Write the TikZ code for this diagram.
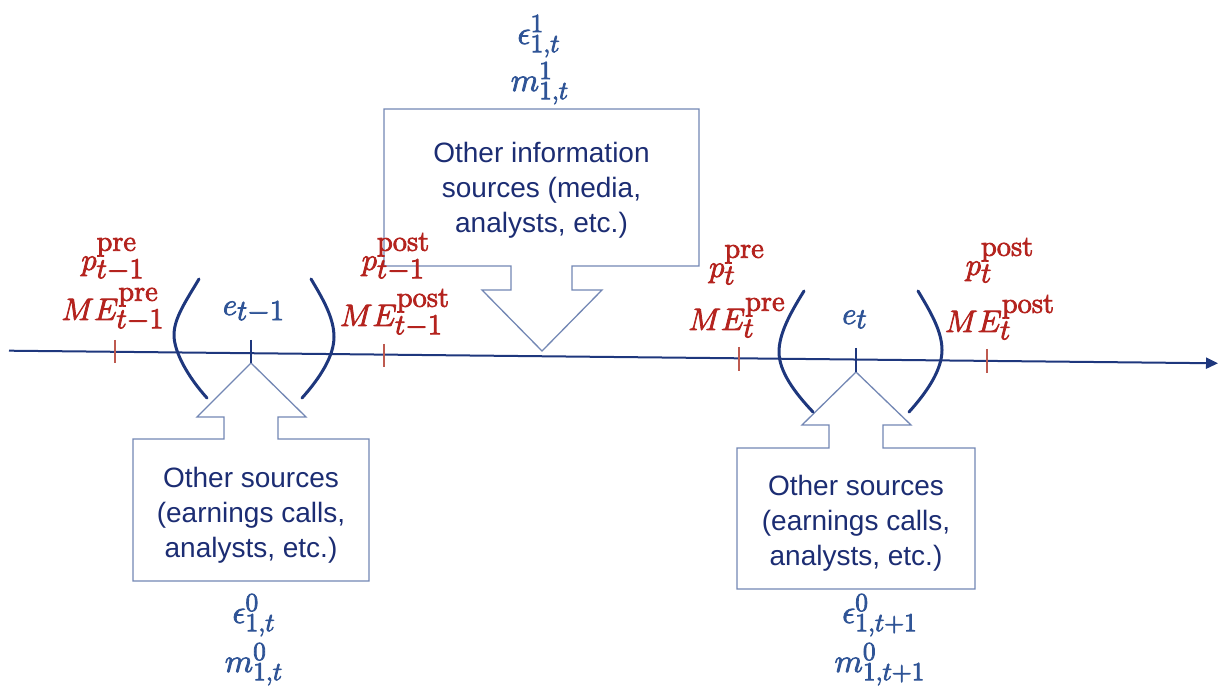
\RequirePackage{fix-cm}
\documentclass[tikz,border=0pt]{standalone}
\usepackage{fontspec}
\newfontfamily\boxfont{Liberation Sans}
\DeclareMathSizes{15.5}{15.5}{14.5}{11}
\DeclareMathSizes{16.5}{16.5}{13}{10}
\usetikzlibrary{arrows.meta}

% large scripts, placed well above and below the base letter
\newcommand\scriptshifts{%
  \fontdimen5\textfont2=8.5pt\relax
  \fontdimen13\textfont2=8.5pt\relax
  \fontdimen16\textfont2=1.5pt\relax
  \fontdimen17\textfont2=4.5pt\relax}

\definecolor{lblred}{RGB}{180,35,30}
\definecolor{mathblue}{RGB}{47,84,150}
\definecolor{navy}{RGB}{28,45,115}
\definecolor{axisblue}{RGB}{30,55,125}
\definecolor{outline}{RGB}{115,135,180}
\definecolor{tickred}{RGB}{190,90,80}

\tikzset{
  heavy/.style={
    execute at begin node={\special{pdf:literal direct 2 Tr 0.4 w}},
    execute at end node={\special{pdf:literal direct 0 Tr}}},
  price/.style={heavy, text=lblred, font=\fontsize{15.5}{18}\selectfont, inner sep=0pt, anchor=base},
  event/.style={heavy, text=mathblue, font=\fontsize{15.5}{18}\selectfont, inner sep=0pt, anchor=base},
  signal/.style={heavy, text=mathblue, font=\fontsize{16.5}{19}\selectfont, inner sep=0pt, anchor=base},
  srcbox/.style={draw=outline, line width=0.65pt, fill=white, line join=miter},
  srctext/.style={text=navy, font=\boxfont\fontsize{14}{17.5}\selectfont, align=center, inner sep=0pt},
  paren/.style={draw=axisblue, line width=1.5pt, line cap=round},
  redtick/.style={draw=tickred, line width=0.6pt},
  bluetick/.style={draw=axisblue, line width=0.7pt},
  timeline/.style={draw=axisblue, line width=1pt, -{Triangle[length=6pt,width=5.5pt]}},
}

\begin{document}
\begin{tikzpicture}[x=0.5pt,y=-0.5pt]
\useasboundingbox (0,0) rectangle (1224,688);

% time axis
\coordinate (tstart) at (9,350.7);
\coordinate (tend) at (1218,363.3);
\draw[timeline] (tstart) -- (tend);

% callout: other information sources, pointing down to the axis
\draw[srcbox] (384,109) -- (699,109) -- (699,266) -- (572,266) -- (572,290)
  -- (602,290) -- (542,351) -- (482,290) -- (511,290) -- (511,266)
  -- (384,266) -- cycle;
\node[srctext] (info) at (541.5,190) {Other information\\sources (media,\\analysts, etc.)};

% callout: other sources around the first announcement
\draw[srcbox] (133,581) -- (369,581) -- (369,439) -- (278,439) -- (278,417)
  -- (306,417) -- (251,363) -- (197,417) -- (224,417) -- (224,439)
  -- (133,439) -- cycle;
\node[srctext] (srcA) at (251,515) {Other sources\\(earnings calls,\\analysts, etc.)};

% callout: other sources around the second announcement
\draw[srcbox] (737,589) -- (975,589) -- (975,448) -- (883,448) -- (883,425)
  -- (911,425) -- (856,372) -- (802,425) -- (829,425) -- (829,448)
  -- (737,448) -- cycle;
\node[srctext] (srcB) at (856,523) {Other sources\\(earnings calls,\\analysts, etc.)};

% ticks on the axis
\draw[redtick] (115,340) -- (115,363);
\draw[redtick] (384,344) -- (384,367);
\draw[redtick] (739,347) -- (739,371);
\draw[redtick] (987,349) -- (987,373);
\draw[bluetick] (251,340) -- (251,363);
\draw[bluetick] (856,348) -- (856,372);

% announcement windows
\draw[paren] (199,279) .. controls (186,301) and (174,318) .. (174,335)
  .. controls (174,352) and (188,377) .. (207,398);
\draw[paren] (311,279) .. controls (323,299) and (334,318) .. (334,337)
  .. controls (334,356) and (320,378) .. (302,398);
\draw[paren] (804,291) .. controls (791,312) and (779,333) .. (779,352)
  .. controls (779,371) and (794,392) .. (813,412);
\draw[paren] (918,291) .. controls (930,311) and (942,331) .. (942,350)
  .. controls (942,370) and (927,392) .. (909,412);

% prices and market expectations
\node[price] (ppre1) at (113,270) {$\scriptshifts p^{\mathrm{pre}}_{t-1}$};
\node[price] (mepre1) at (113,320) {$\scriptshifts ME^{\mathrm{pre}}_{t-1}$};
\node[price] (ppost1) at (396,270) {$\scriptshifts p^{\mathrm{post}}_{t-1}$};
\node[price] (mepost1) at (395,326) {$\scriptshifts ME^{\mathrm{post}}_{t-1}$};
\node[price] (ppre2) at (737,277) {$\scriptshifts p^{\mathrm{pre}}_{t}$};
\node[price] (mepre2) at (737,330) {$\scriptshifts ME^{\mathrm{pre}}_{t}$};
\node[price] (ppost2) at (1000,275) {$\scriptshifts p^{\mathrm{post}}_{t}$};
\node[price] (mepost2) at (1000,332) {$\scriptshifts ME^{\mathrm{post}}_{t}$};

% earnings announcements
\node[event] (e1) at (254,315) {$\scriptshifts e_{t-1}$};
\node[event] (e2) at (855,324) {$\scriptshifts e_{t}$};

% signals from other sources
\node[signal] (eps1) at (539,44) {$\epsilon^{1}_{1,t}$};
\node[signal] (m1) at (540,91) {$m^{1}_{1,t}$};
\node[signal] (eps0a) at (254,623) {$\epsilon^{0}_{1,t}$};
\node[signal] (m0a) at (254,672) {$m^{0}_{1,t}$};
\node[signal] (eps0b) at (880,623) {$\epsilon^{0}_{1,t+1}$};
\node[signal] (m0b) at (880,672) {$m^{0}_{1,t+1}$};
\end{tikzpicture}
\end{document}
